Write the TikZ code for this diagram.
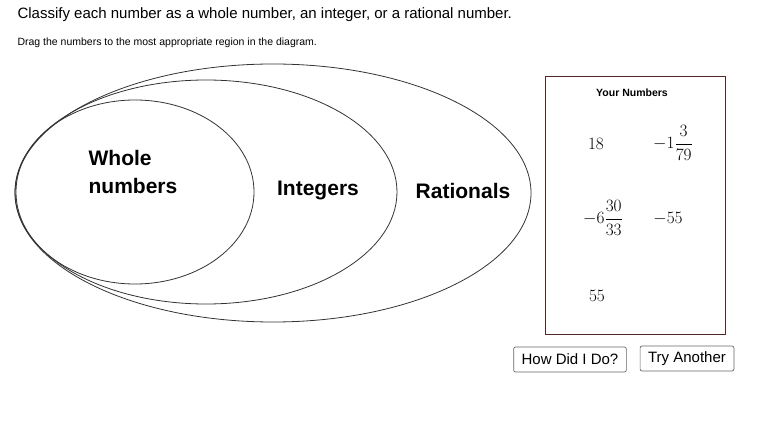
\documentclass[tikz,border=0pt]{standalone}
\usepackage{fontspec}
\setmainfont{Liberation Sans}
\usepackage{amsmath}
\begin{document}
\begin{tikzpicture}[x=1pt,y=-1pt,
  venn/.style={draw=black!80,line width=0.8pt},
  lbl/.style={font=\fontsize{21}{24}\selectfont\bfseries,align=left},
  num/.style={font=\fontsize{16}{18}\selectfont},
  btn/.style={draw=black!60,rounded corners=2pt,line width=0.7pt,font=\fontsize{15}{17}\selectfont,minimum height=25pt,inner xsep=8pt}]
\useasboundingbox (0,0) rectangle (770,435);
\node[anchor=west,font=\fontsize{15}{17}\selectfont] (title) at (14,15) {Classify each number as a whole number, an integer, or a rational number.};
\node[anchor=west,font=\fontsize{10.5}{12}\selectfont] (sub) at (14,43) {Drag the numbers to the most appropriate region in the diagram.};
\draw[venn] (273,193) ellipse [x radius=258, y radius=129];
\draw[venn] (206,192) ellipse [x radius=191, y radius=112];
\draw[venn] (135,192) ellipse [x radius=119, y radius=92];
\node[lbl] (whole) at (133,172) {Whole\\[4pt]numbers};
\node[lbl] (int) at (318,191) {Integers};
\node[lbl] (rat) at (463,191) {Rationals};
\draw[draw={rgb,255:red,80;green,40;blue,40},line width=1pt] (545,77) rectangle (725,334);
\node[font=\fontsize{10.5}{12}\selectfont\bfseries] (your) at (632,93) {Your Numbers};
\node[num] (n1) at (596,144) {$18$};
\node[num] (n2) at (673,143) {$-1\dfrac{3}{79}$};
\node[num] (n3) at (603,218) {$-6\dfrac{30}{33}$};
\node[num] (n4) at (668,219) {$-55$};
\node[num] (n5) at (597,296) {$55$};
\node[btn] (b1) at (570,359.5) {How Did I Do?};
\node[btn] (b2) at (687,358.5) {Try Another};
\end{tikzpicture}
\end{document}
